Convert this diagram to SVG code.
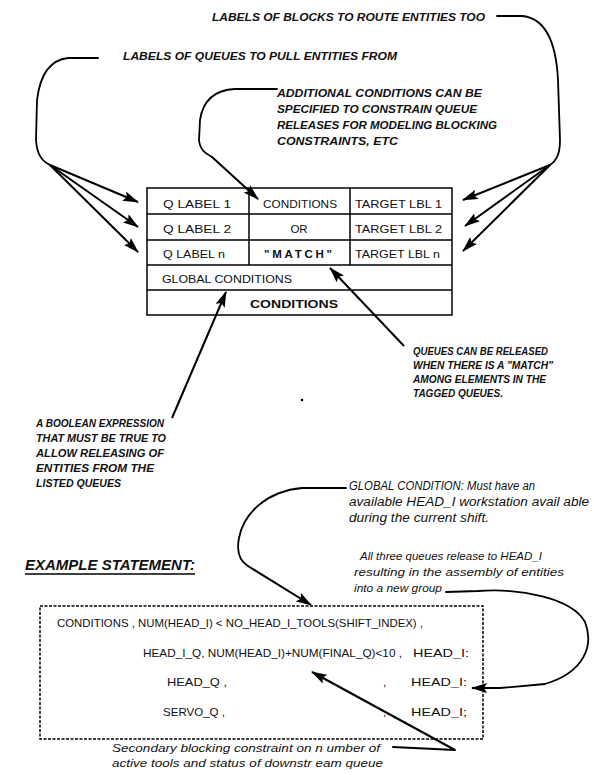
<svg xmlns="http://www.w3.org/2000/svg" width="594" height="775" viewBox="0 0 594 775">
<defs>
<marker id="ah" viewBox="0 0 16 10" refX="15" refY="5" markerWidth="16" markerHeight="10" markerUnits="userSpaceOnUse" orient="auto">
<path d="M0,0 L16,5 L0,10 L3,5 Z" fill="#000"/>
</marker>
<style>
.cap{font-family:"Liberation Sans",Arial,sans-serif;font-style:italic;font-weight:bold;font-size:11.5px;fill:#111}
.tb{font-family:"Liberation Sans",Arial,sans-serif;font-size:11.5px;fill:#111}
.tbb{font-family:"Liberation Sans",Arial,sans-serif;font-size:11.5px;font-weight:bold;fill:#111}
.nt{font-family:"Liberation Sans",Arial,sans-serif;font-style:italic;font-size:11px;fill:#111}
.ng{font-family:"Liberation Sans",Arial,sans-serif;font-style:italic;font-size:12px;fill:#111}
.bx{font-family:"Liberation Sans",Arial,sans-serif;font-size:11.5px;fill:#111}
.ttl{font-family:"Liberation Sans",Arial,sans-serif;font-style:italic;font-weight:bold;font-size:15px;fill:#111}
.ln{fill:none;stroke:#000;stroke-width:1.8;stroke-linecap:round;stroke-linejoin:round}
.ar{fill:none;stroke:#000;stroke-width:2;marker-end:url(#ah)}
.cell{fill:#fff;stroke:#000;stroke-width:1.5}
</style>
</defs>

<g id="label-blocks">
<text class="cap" x="212" y="21" textLength="273" lengthAdjust="spacingAndGlyphs">LABELS OF BLOCKS TO ROUTE ENTITIES TOO</text>
</g>
<g id="label-queues">
<text class="cap" x="123" y="60" textLength="274" lengthAdjust="spacingAndGlyphs">LABELS OF QUEUES TO PULL ENTITIES FROM</text>
</g>
<g id="label-additional">
<text class="cap" x="277" y="97" textLength="205" lengthAdjust="spacingAndGlyphs">ADDITIONAL CONDITIONS CAN BE</text>
<text class="cap" x="277" y="113" textLength="200" lengthAdjust="spacingAndGlyphs">SPECIFIED TO CONSTRAIN QUEUE</text>
<text class="cap" x="277" y="129" textLength="220" lengthAdjust="spacingAndGlyphs">RELEASES FOR  MODELING  BLOCKING</text>
<text class="cap" x="277" y="145" textLength="121" lengthAdjust="spacingAndGlyphs">CONSTRAINTS, ETC</text>
</g>

<g id="table">
<rect class="cell" x="147" y="188" width="305" height="127"/>
<line class="cell" x1="147" y1="214" x2="452" y2="214"/>
<line class="cell" x1="147" y1="240" x2="452" y2="240"/>
<line class="cell" x1="147" y1="265" x2="452" y2="265"/>
<line class="cell" x1="147" y1="290" x2="452" y2="290"/>
<line class="cell" x1="249" y1="188" x2="249" y2="265"/>
<line class="cell" x1="350" y1="188" x2="350" y2="265"/>
<text class="tb" x="163" y="208" textLength="68" lengthAdjust="spacingAndGlyphs">Q LABEL 1</text>
<text class="tb" x="163" y="233" textLength="68" lengthAdjust="spacingAndGlyphs">Q LABEL 2</text>
<text class="tb" x="163" y="258" textLength="62" lengthAdjust="spacingAndGlyphs">Q LABEL n</text>
<text class="tb" x="263" y="208" textLength="74" lengthAdjust="spacingAndGlyphs">CONDITIONS</text>
<text class="tb" x="299" y="233" text-anchor="middle">OR</text>
<text class="tbb" x="264" y="258" textLength="68" lengthAdjust="spacing">"MATCH"</text>
<text class="tb" x="355" y="208" textLength="87" lengthAdjust="spacingAndGlyphs">TARGET LBL 1</text>
<text class="tb" x="355" y="233" textLength="87" lengthAdjust="spacingAndGlyphs">TARGET LBL 2</text>
<text class="tb" x="355" y="258" textLength="85" lengthAdjust="spacingAndGlyphs">TARGET LBL n</text>
<text class="tb" x="162" y="283" textLength="130" lengthAdjust="spacingAndGlyphs">GLOBAL CONDITIONS</text>
<text class="tbb" x="250" y="308" textLength="88" lengthAdjust="spacingAndGlyphs">CONDITIONS</text>
</g>

<g id="label-boolean">
<text class="cap" x="36" y="427" textLength="128" lengthAdjust="spacingAndGlyphs">A BOOLEAN EXPRESSION</text>
<text class="cap" x="36" y="442" textLength="130" lengthAdjust="spacingAndGlyphs">THAT MUST BE TRUE TO</text>
<text class="cap" x="36" y="457" textLength="128" lengthAdjust="spacingAndGlyphs">ALLOW  RELEASING  OF</text>
<text class="cap" x="36" y="472" textLength="118" lengthAdjust="spacingAndGlyphs">ENTITIES  FROM  THE</text>
<text class="cap" x="36" y="487" textLength="85" lengthAdjust="spacingAndGlyphs">LISTED  QUEUES</text>
</g>

<g id="label-match">
<text class="cap" x="413" y="355" textLength="135" lengthAdjust="spacingAndGlyphs">QUEUES CAN BE RELEASED</text>
<text class="cap" x="413" y="369" textLength="140" lengthAdjust="spacingAndGlyphs">WHEN THERE IS A  "MATCH"</text>
<text class="cap" x="413" y="383" textLength="133" lengthAdjust="spacingAndGlyphs">AMONG ELEMENTS IN THE</text>
<text class="cap" x="413" y="397" textLength="90" lengthAdjust="spacingAndGlyphs">TAGGED QUEUES.</text>
</g>
<circle cx="302" cy="400" r="1.3" fill="#000"/>

<g id="label-global">
<text class="ng" x="349" y="490" textLength="186" lengthAdjust="spacingAndGlyphs">GLOBAL CONDITION:  Must have an</text>
<text class="ng" x="349" y="506" textLength="240" lengthAdjust="spacingAndGlyphs">available HEAD_I workstation avail able</text>
<text class="ng" x="349" y="522" textLength="140" lengthAdjust="spacingAndGlyphs">during the current shift.</text>
</g>

<g id="label-assembly">
<text class="nt" x="360" y="560" textLength="182" lengthAdjust="spacingAndGlyphs">All three queues release to HEAD_I</text>
<text class="nt" x="354" y="576" textLength="210" lengthAdjust="spacingAndGlyphs">resulting in the assembly of entities</text>
<text class="nt" x="354" y="592" textLength="88" lengthAdjust="spacingAndGlyphs">into a new group</text>
</g>

<g id="title">
<text class="ttl" x="25" y="570" textLength="170" lengthAdjust="spacingAndGlyphs">EXAMPLE STATEMENT:</text>
<line x1="25" y1="574" x2="195" y2="574" stroke="#000" stroke-width="1.6"/>
</g>

<g id="example-box">
<rect x="40" y="606" width="443" height="133" fill="none" stroke="#000" stroke-width="1.5" stroke-dasharray="3 1.5"/>
<text class="bx" x="57" y="627" textLength="366" lengthAdjust="spacingAndGlyphs">CONDITIONS , NUM(HEAD_I) &lt; NO_HEAD_I_TOOLS(SHIFT_INDEX) ,</text>
<text class="bx" x="143" y="657" textLength="259" lengthAdjust="spacingAndGlyphs">HEAD_I_Q,  NUM(HEAD_I)+NUM(FINAL_Q)&lt;10  ,</text>
<text class="bx" x="413" y="657" textLength="56" lengthAdjust="spacingAndGlyphs">HEAD_I:</text>
<text class="bx" x="167" y="686" textLength="60" lengthAdjust="spacingAndGlyphs">HEAD_Q  ,</text>
<text class="bx" x="383" y="686">,</text>
<text class="bx" x="411" y="686" textLength="56" lengthAdjust="spacingAndGlyphs">HEAD_I:</text>
<text class="bx" x="163" y="716" textLength="62" lengthAdjust="spacingAndGlyphs">SERVO_Q ,</text>
<text class="bx" x="383" y="716">,</text>
<text class="bx" x="411" y="716" textLength="56" lengthAdjust="spacingAndGlyphs">HEAD_I;</text>
</g>

<g id="label-secondary">
<text class="nt" x="112" y="752" textLength="268" lengthAdjust="spacingAndGlyphs">Secondary blocking constraint on n umber of</text>
<text class="nt" x="112" y="767" textLength="271" lengthAdjust="spacingAndGlyphs">active tools and status of downstr eam queue</text>
</g>

<g id="connectors">
<path class="ln" d="M497,16 L522,16 C545,18 556,40 558,80 L560,140 C560,155 556,161 550,165"/>
<line class="ar" x1="550" y1="165" x2="463" y2="200"/>
<line class="ar" x1="550" y1="165" x2="465" y2="226"/>
<line class="ar" x1="550" y1="165" x2="463" y2="251"/>
<path class="ln" d="M98,58 L68,58 C50,60 40,75 37,100 L36,140 C37,155 42,161 50,165"/>
<line class="ar" x1="50" y1="165" x2="138" y2="202"/>
<line class="ar" x1="50" y1="165" x2="138" y2="227"/>
<line class="ar" x1="50" y1="165" x2="138" y2="252"/>
<path class="ln" d="M277,89 L235,89 C215,90 203,100 200,120 L199,140 C200,150 205,153 212,157"/>
<line class="ar" x1="212" y1="157" x2="258" y2="199"/>
<line class="ar" x1="172" y1="418" x2="226" y2="292"/>
<line class="ar" x1="404" y1="346" x2="330" y2="268"/>
<path class="ln" d="M346,488 L302,488 C268,491 244,512 239,538 C236,553 240,561 248,566"/>
<line class="ar" x1="248" y1="566" x2="311" y2="605"/>
<path class="ln" d="M446,592 L478,591 C520,588 572,598 585,622 C594,645 585,672 545,684 L500,688"/>
<line class="ar" x1="500" y1="688" x2="472" y2="688"/>
<path class="ln" d="M393,747 L455,750"/>
<line class="ar" x1="455" y1="750" x2="312" y2="672"/>
</g>
</svg>
